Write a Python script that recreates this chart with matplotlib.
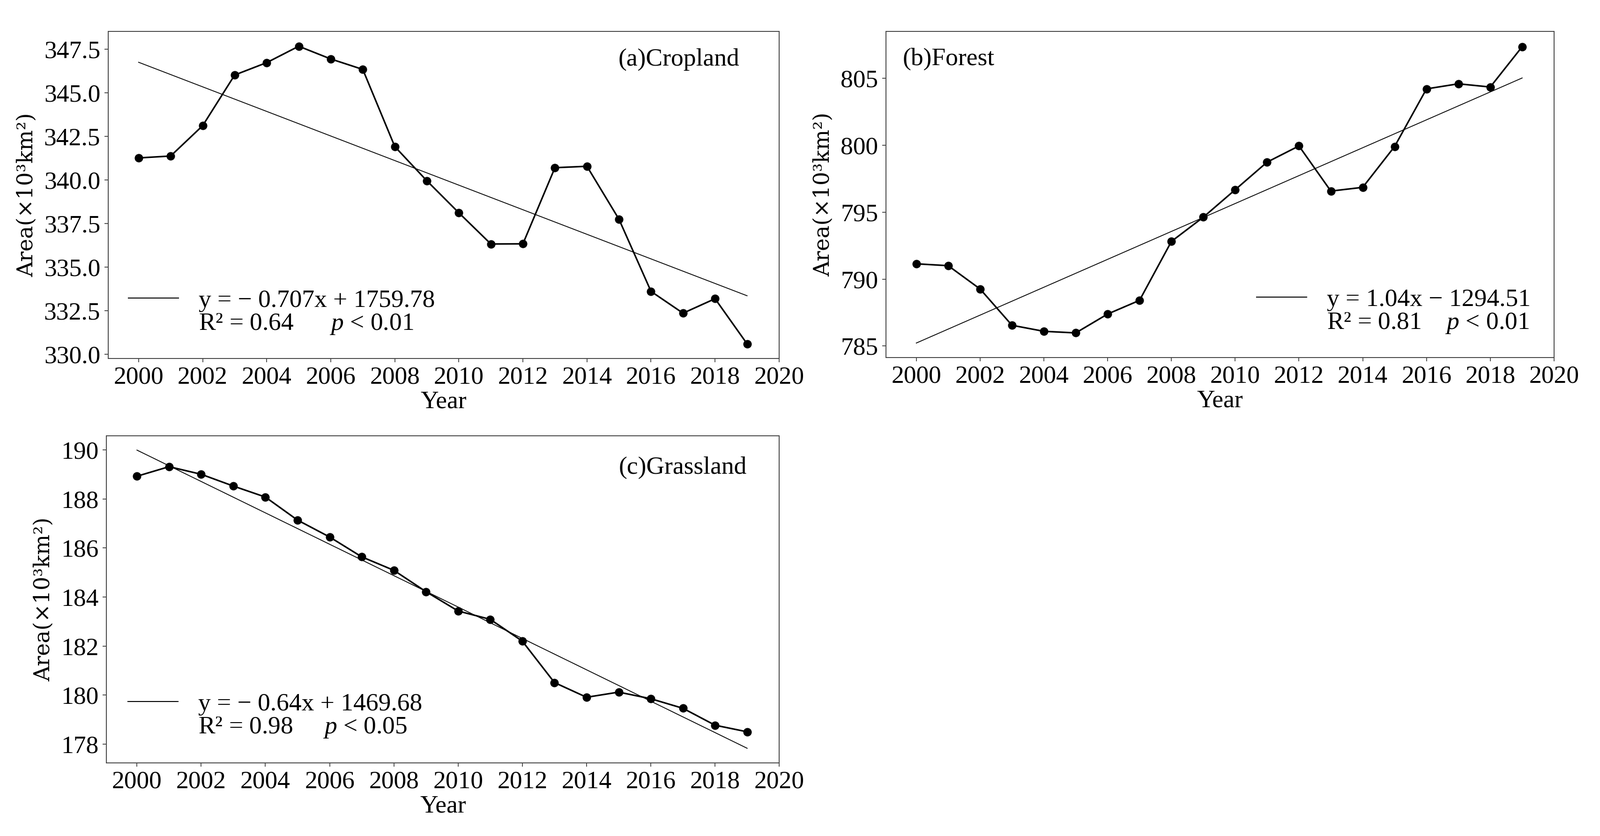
import numpy as np
import matplotlib
matplotlib.use("Agg")
import matplotlib.pyplot as plt
from matplotlib.lines import Line2D
from matplotlib.ticker import FormatStrFormatter, MultipleLocator

plt.rcParams["font.family"] = ["Liberation Serif", "DejaVu Serif"]
plt.rcParams["mathtext.fontset"] = "custom"
plt.rcParams["mathtext.rm"] = "Liberation Serif"
plt.rcParams["mathtext.it"] = "Liberation Serif:italic"

# ---- data ----
years = np.arange(2000, 2020)

cropland = [341.26, 341.37, 343.11, 346.02, 346.73, 347.67, 346.94, 346.34, 341.91, 339.95,
            338.11, 336.32, 336.33, 340.70, 340.78, 337.74, 333.60, 332.35, 333.18, 330.59]
forest = [791.14, 791.00, 789.26, 786.55, 786.10, 785.98, 787.39, 788.41, 792.81, 794.62,
          796.67, 798.73, 799.94, 796.57, 796.85, 799.90, 804.20, 804.58, 804.34, 807.35]
grassland = [188.93, 189.32, 189.01, 188.53, 188.08, 187.14, 186.45, 185.64, 185.09, 184.22,
             183.43, 183.09, 182.20, 180.51, 179.91, 180.12, 179.85, 179.46, 178.77, 178.50]

titles = ["(a)Cropland", "(b)Forest", "(c)Grassland"]
eq_lines = ["y = − 0.707x + 1759.78", "y = 1.04x − 1294.51", "y = − 0.64x + 1469.68"]
stat_lines = ["R² = 0.64      $p$ < 0.01", "R² = 0.81    $p$ < 0.01", "R² = 0.98     $p$ < 0.05"]
ylims = [(329.75, 348.52), (784.14, 808.49), (177.23, 190.58)]
ysteps = [2.5, 5, 2]
yfmts = ["%.1f", "%d", "%d"]

FS = 38.5
SPINE = "#444444"

fig = plt.figure(figsize=(34.16, 17.84), dpi=100)
rects = [
    [0.0676, 0.5712, 0.4192, 0.3912],
    [0.5536, 0.5723, 0.4174, 0.3901],
    [0.0665, 0.0874, 0.4204, 0.3913],
]

series = [cropland, forest, grassland]
title_pos = [(0.941, 0.915, "right"), (0.025, 0.915, "left"), (0.952, 0.903, "right")]
leg_pos = [("center left", (0.030, 0.140)), ("center right", (0.965, 0.141)),
           ("center left", (0.032, 0.143))]

for i, (rect, vals) in enumerate(zip(rects, series)):
    ax = fig.add_axes(rect)
    vals = np.asarray(vals)

    ax.plot(years, vals, color="black", lw=2.4, marker="o", ms=12, zorder=3)

    # linear trend
    k, b = np.polyfit(years, vals, 1)
    ax.plot(years, k * years + b, color="black", lw=1.3, zorder=2)

    ax.set_xlim(1999.05, 2020)
    ax.set_ylim(*ylims[i])
    ax.set_xticks(np.arange(2000, 2021, 2))
    ax.yaxis.set_major_locator(MultipleLocator(ysteps[i]))
    ax.yaxis.set_major_formatter(FormatStrFormatter(yfmts[i]))

    for s in ax.spines.values():
        s.set_color(SPINE)
        s.set_linewidth(1.4)
    ax.tick_params(labelsize=FS, length=6, width=1.3, color=SPINE, pad=6)

    ax.set_xlabel("Year", fontsize=FS, labelpad=3)
    ax.set_ylabel("Area(×10³km²)", fontsize=33, family="DejaVu Serif", labelpad=10)

    tx, ty, ha = title_pos[i]
    ax.text(tx, ty, titles[i], transform=ax.transAxes, fontsize=FS,
            ha=ha, va="center")

    handles = [Line2D([], [], color="black", lw=1.5), Line2D([], [], color="none")]
    loc, anchor = leg_pos[i]
    ax.legend(handles, [eq_lines[i], stat_lines[i]], loc=loc, bbox_to_anchor=anchor,
              frameon=False, fontsize=FS, handlelength=2.0, handletextpad=0.8,
              labelspacing=0.0, borderpad=0, borderaxespad=0)

fig.savefig("out.png", dpi=100, facecolor="white")
